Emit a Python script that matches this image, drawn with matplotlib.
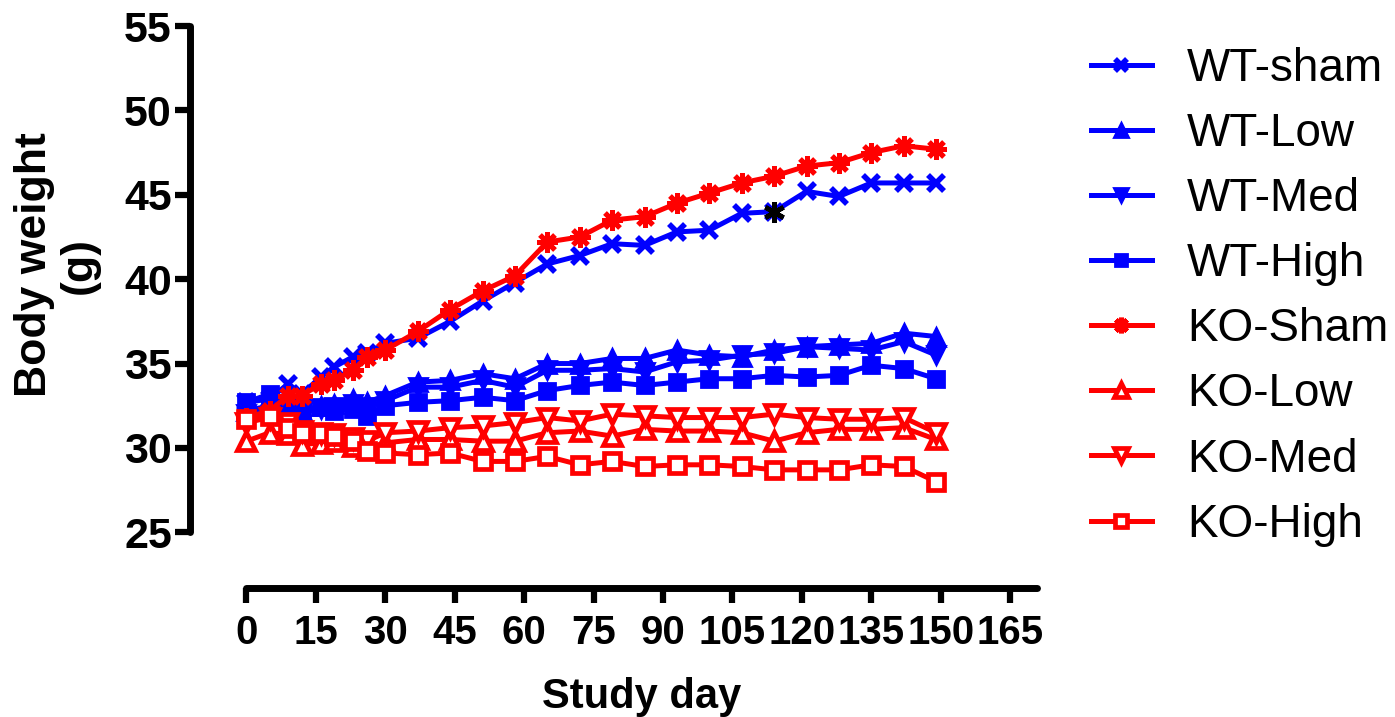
import matplotlib
matplotlib.use("Agg")
from matplotlib import pyplot as plt

# study days (twice weekly at first, then weekly)
days = [0, 5, 9, 12, 16, 19, 23, 26, 30, 37, 44, 51, 58, 65, 72, 79, 86, 93,
        100, 107, 114, 121, 128, 135, 142, 149]

wt_sham = [32.7, 32.9, 33.8, 33.2, 34.2, 34.8, 35.4, 35.6, 36.2,
           36.5, 37.5, 38.7, 39.8, 40.9, 41.4, 42.1, 42.0, 42.8, 42.9, 43.9,
           44.0, 45.2, 44.9, 45.7, 45.7, 45.7]
wt_low = [32.2, 32.5, 32.4, 32.2, 32.5, 32.6, 32.9, 32.7, 33.1,
          33.9, 34.0, 34.4, 34.1, 35.0, 35.0, 35.3, 35.3, 35.8, 35.5, 35.4,
          35.8, 36.0, 36.1, 36.2, 36.8, 36.6]
wt_med = [32.0, 32.3, 32.2, 32.1, 32.3, 32.4, 32.6, 32.4, 32.8,
          33.6, 33.6, 34.0, 33.6, 34.6, 34.6, 34.7, 34.5, 35.1, 35.2, 35.5,
          35.6, 36.0, 35.9, 35.8, 36.3, 35.5]
wt_high = [32.7, 33.2, 32.6, 32.3, 32.4, 32.2, 32.3, 31.9, 32.5,
           32.7, 32.8, 33.0, 32.8, 33.4, 33.7, 33.9, 33.7, 33.9, 34.1, 34.1,
           34.3, 34.2, 34.3, 34.9, 34.7, 34.1]
ko_sham = [31.8, 32.2, 33.1, 33.1, 33.8, 34.0, 34.6, 35.4, 35.8,
           36.9, 38.2, 39.3, 40.2, 42.2, 42.5, 43.5, 43.7, 44.5, 45.1, 45.7,
           46.1, 46.7, 46.9, 47.5, 47.9, 47.7]
ko_low = [30.4, 30.9, 30.8, 30.2, 30.3, 30.4, 30.1, 30.0, 30.3,
          30.5, 30.5, 30.4, 30.4, 30.9, 31.0, 30.7, 31.1, 31.0, 31.0, 30.9,
          30.4, 30.9, 31.1, 31.1, 31.2, 30.5]
ko_med = [31.5, 31.8, 31.5, 31.0, 30.9, 30.8, 30.6, 30.4, 30.9,
          31.0, 31.2, 31.3, 31.5, 31.8, 31.6, 32.0, 31.9, 31.8, 31.8, 31.8,
          32.0, 31.8, 31.7, 31.7, 31.8, 30.9]
ko_high = [31.7, 31.9, 31.2, 30.9, 30.9, 30.7, 30.4, 29.8, 29.7,
           29.6, 29.7, 29.2, 29.2, 29.5, 29.0, 29.2, 28.9, 29.0, 29.0, 28.9,
           28.7, 28.7, 28.7, 29.0, 28.9, 28.0]

labels = ["WT-sham", "WT-Low", "WT-Med", "WT-High",
          "KO-Sham", "KO-Low", "KO-Med", "KO-High"]
sig_day = 114  # black asterisk on WT-sham

x_ticks = list(range(0, 166, 15))
y_ticks = list(range(25, 56, 5))

BLUE = "#0000ff"
RED = "#ff0000"

plt.rcParams["font.family"] = ["Liberation Sans", "DejaVu Sans"]

fig = plt.figure(figsize=(13.95, 7.17), dpi=100)
ax = fig.add_axes([190 / 1395, 1 - 588 / 717, 847 / 1395, 562 / 717])

# (values, colour, marker, face colour, size, edge width)
styles = [
    (wt_sham, BLUE, "x", BLUE, 12, 4.0),
    (wt_low, BLUE, "^", BLUE, 13, 2.0),
    (wt_med, BLUE, "v", BLUE, 13, 2.0),
    (wt_high, BLUE, "s", BLUE, 12, 2.0),
    (ko_sham, RED, (8, 2, 0), RED, 15, 3.6),
    (ko_low, RED, "^", "white", 13, 3.4),
    (ko_med, RED, "v", "white", 13, 3.4),
    (ko_high, RED, "s", "white", 12, 3.4),
]
for (vals, col, mk, fc, ms, mew), lab in zip(styles, labels):
    ax.plot(days, vals, color=col, lw=3.6, marker=mk, ms=ms, mfc=fc, mec=col,
            mew=mew, label=lab, solid_joinstyle="round")

i = days.index(sig_day)
ax.plot([sig_day], [wt_sham[i]], ls="none", marker=(6, 2, 0), ms=15, mew=3.4, color="black")

ax.set_xlim(-12.2, 170.8)
ax.set_ylim(21.7, 55)
ax.spines["top"].set_visible(False)
ax.spines["right"].set_visible(False)
ax.spines["left"].set_bounds(25, 55)
ax.spines["bottom"].set_bounds(0, 170.8)
for s in ("left", "bottom"):
    ax.spines[s].set_linewidth(5)
    ax.spines[s].set_capstyle("round")

ax.set_xticks(x_ticks)
ax.set_yticks(y_ticks)
ax.tick_params(axis="both", direction="out", length=11, width=4.5, color="black")
ax.tick_params(axis="x", pad=8)
ax.tick_params(axis="y", pad=2)
for t in ax.get_xticklabels():
    t.set_fontsize(29)
    t.set_fontweight("bold")
for t in ax.get_yticklabels():
    t.set_fontsize(31)
    t.set_fontweight("bold")

fig.text(57 / 1395, 1 - 265 / 717, "Body weight\n(g)", rotation=90, ha="center", va="center",
         multialignment="center", fontsize=32, fontweight="bold", linespacing=1.1)
fig.text(642 / 1395, 1 - 697 / 717, "Study day", ha="center", va="center",
         fontsize=30, fontweight="bold")

leg = ax.legend(loc="upper left", bbox_to_anchor=(1091 / 1395, 1 - 47 / 717),
                bbox_transform=fig.transFigure, frameon=False, fontsize=33,
                numpoints=1, handlelength=1.33, handletextpad=0.76,
                labelspacing=0.46, borderaxespad=0, borderpad=0, markerscale=0.75)

fig.savefig("out.png", dpi=100)
